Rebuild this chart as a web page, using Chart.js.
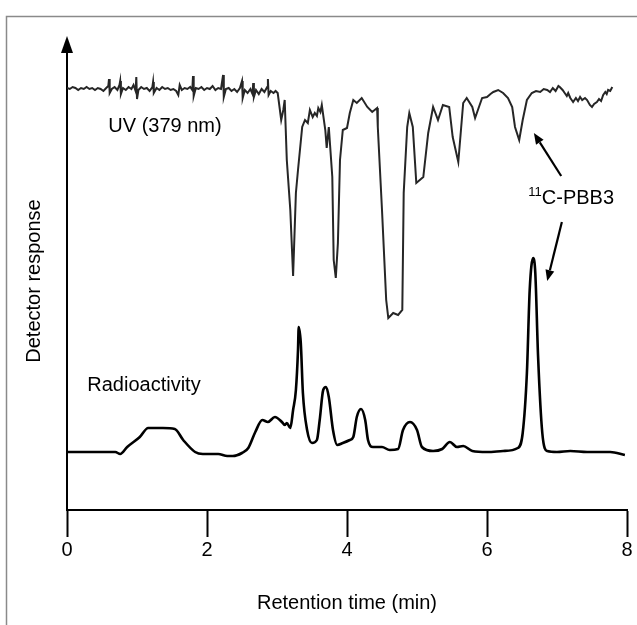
<!DOCTYPE html>
<html>
<head>
<meta charset="utf-8">
<script src="https://cdn.jsdelivr.net/npm/chart.js@4/dist/chart.umd.min.js"></script>
<style>
  html, body { margin: 0; padding: 0; background: #fff; }
  #wrap { width: 637px; height: 625px; position: relative; }
</style>
</head>
<body>
<div id="wrap"><canvas id="myChart" width="637" height="625"></canvas></div>
<script>
// retention time (min) and detector response (arbitrary units)
const uvTime = [
  0.00, 0.04, 0.08, 0.12, 0.16, 0.20, 0.24, 0.28, 0.32, 0.36,
  0.40, 0.44, 0.48, 0.52, 0.56, 0.59, 0.60, 0.61, 0.64, 0.68,
  0.72, 0.75, 0.76, 0.77, 0.80, 0.84, 0.88, 0.92, 0.95, 0.98,
  0.99, 1.00, 1.02, 1.06, 1.10, 1.14, 1.18, 1.22, 1.23, 1.24,
  1.28, 1.32, 1.36, 1.40, 1.44, 1.48, 1.52, 1.56, 1.59, 1.61,
  1.64, 1.68, 1.72, 1.76, 1.79, 1.80, 1.81, 1.84, 1.88, 1.92,
  1.96, 2.00, 2.04, 2.08, 2.12, 2.16, 2.20, 2.23, 2.24, 2.27,
  2.31, 2.35, 2.39, 2.43, 2.47, 2.50, 2.51, 2.54, 2.58, 2.62,
  2.65, 2.66, 2.67, 2.70, 2.74, 2.78, 2.82, 2.86, 2.87, 2.88,
  2.91, 2.95, 2.98, 3.01, 3.06, 3.09, 3.11, 3.14, 3.19, 3.23,
  3.27, 3.30, 3.36, 3.40, 3.44, 3.47, 3.51, 3.54, 3.57, 3.59,
  3.62, 3.64, 3.69, 3.71, 3.74, 3.79, 3.81, 3.84, 3.87, 3.90,
  3.94, 4.00, 4.04, 4.09, 4.14, 4.21, 4.29, 4.36, 4.43, 4.44,
  4.50, 4.56, 4.59, 4.66, 4.73, 4.79, 4.81, 4.86, 4.89, 4.94,
  4.99, 5.09, 5.16, 5.23, 5.30, 5.37, 5.46, 5.51, 5.59, 5.66,
  5.71, 5.79, 5.83, 5.87, 5.93, 6.00, 6.05, 6.09, 6.16, 6.23,
  6.30, 6.36, 6.40, 6.46, 6.51, 6.57, 6.64, 6.70, 6.76, 6.81,
  6.86, 6.90, 6.94, 6.98, 7.02, 7.04, 7.08, 7.11, 7.14, 7.16,
  7.19, 7.21, 7.23, 7.27, 7.30, 7.33, 7.36, 7.40, 7.43, 7.47,
  7.50, 7.53, 7.57, 7.60, 7.63, 7.66, 7.69, 7.71, 7.73, 7.76,
  7.79];
const uvSignal = [
  422, 421, 423, 422, 420, 422, 421, 423, 421, 422,
  420, 422, 421, 419, 422, 424, 431, 417, 421, 423,
  420, 425, 429, 416, 422, 420, 423, 421, 425, 419,
  433, 411, 420, 423, 421, 422, 419, 423, 428, 417,
  422, 420, 423, 421, 422, 420, 421, 419, 415, 425,
  420, 422, 421, 423, 420, 434, 414, 422, 421, 423,
  420, 422, 421, 424, 420, 422, 421, 435, 413, 421,
  422, 419, 421, 418, 422, 429, 412, 420, 417, 421,
  416, 427, 413, 420, 416, 421, 418, 423, 431, 415,
  419, 417, 419, 417, 390, 400, 410, 350, 300, 234,
  317, 340, 383, 390, 387, 400, 393, 397, 394, 402,
  398, 405, 380, 362, 383, 333, 250, 232, 267, 350,
  380, 382, 397, 410, 407, 412, 403, 398, 402, 383,
  300, 210, 192, 197, 195, 200, 317, 383, 397, 383,
  327, 333, 377, 403, 390, 405, 403, 373, 348, 407,
  412, 403, 392, 400, 412, 413, 416, 418, 420, 417,
  412, 403, 383, 370, 390, 410, 417, 419, 418, 421,
  420, 418, 422, 419, 424, 423, 420, 417, 414, 417,
  412, 410, 408, 412, 409, 413, 410, 412, 410, 405,
  403, 406, 408, 411, 409, 415, 418, 416, 420, 419,
  423];

const radTime = [
  0.00, 0.69, 0.76, 0.86, 1.04, 1.16, 1.37, 1.54, 1.66, 1.83,
  1.94, 2.16, 2.29, 2.37, 2.50, 2.59, 2.69, 2.79, 2.87, 2.97,
  3.07, 3.11, 3.14, 3.19, 3.23, 3.27, 3.30, 3.31, 3.34, 3.37,
  3.43, 3.50, 3.57, 3.61, 3.66, 3.70, 3.74, 3.80, 3.86, 3.94,
  4.04, 4.09, 4.14, 4.20, 4.26, 4.30, 4.37, 4.50, 4.61, 4.73,
  4.80, 4.90, 5.00, 5.07, 5.23, 5.36, 5.47, 5.57, 5.66, 5.79,
  6.00, 6.23, 6.44, 6.51, 6.57, 6.61, 6.66, 6.69, 6.73, 6.79,
  6.86, 7.00, 7.19, 7.43, 7.76, 7.97];
const radSignal = [
  58, 58, 56, 63, 73, 82, 82, 81, 70, 58,
  56, 56, 54, 54, 57, 62, 78, 90, 88, 93,
  88, 85, 87, 82, 100, 120, 160, 183, 167, 117,
  80, 67, 70, 90, 120, 123, 113, 80, 65, 67,
  70, 73, 93, 101, 90, 70, 63, 63, 60, 61,
  80, 88, 80, 63, 59, 61, 68, 63, 64, 59,
  58, 59, 62, 77, 137, 220, 252, 237, 153, 77,
  59, 58, 59, 58, 58, 55];

const xTicks = [0, 2, 4, 6, 8];

const FONT = 'Arial, "Liberation Sans", sans-serif';

function toPoints(xs, ys) {
    return xs.map((x, i) => ({ x: x, y: ys[i] }));
}

function arrowLine(ctx, x1, y1, x2, y2) {
    const ang = Math.atan2(y2 - y1, x2 - x1);
    const len = 11;
    const half = 4.5;
    const bx = x2 - Math.cos(ang) * len;
    const by = y2 - Math.sin(ang) * len;
    ctx.beginPath();
    ctx.moveTo(x1, y1);
    ctx.lineTo(bx, by);
    ctx.stroke();
    ctx.beginPath();
    ctx.moveTo(x2, y2);
    ctx.lineTo(bx + Math.sin(ang) * half, by - Math.cos(ang) * half);
    ctx.lineTo(bx - Math.sin(ang) * half, by + Math.cos(ang) * half);
    ctx.closePath();
    ctx.fill();
}

const decorPlugin = {
    id: 'decor',
    beforeDraw(chart) {
        const ctx = chart.ctx;
        ctx.save();
        ctx.fillStyle = '#fff';
        ctx.fillRect(0, 0, chart.width, chart.height);
        ctx.strokeStyle = '#8a8a8a';
        ctx.lineWidth = 1.5;
        ctx.strokeRect(6.5, 16.5, chart.width + 20, chart.height + 20);
        ctx.restore();
    },
    afterDraw(chart) {
        const ctx = chart.ctx;
        const xs = chart.scales.x;
        const ys = chart.scales.y;
        const area = chart.chartArea;
        ctx.save();
        ctx.fillStyle = '#000';
        ctx.strokeStyle = '#000';

        // arrow head on the y axis
        ctx.beginPath();
        ctx.moveTo(area.left, area.top - 16);
        ctx.lineTo(area.left - 6, area.top + 1);
        ctx.lineTo(area.left + 6, area.top + 1);
        ctx.closePath();
        ctx.fill();

        // trace labels
        ctx.font = '20px ' + FONT;
        ctx.textBaseline = 'middle';
        ctx.textAlign = 'left';
        ctx.fillText('UV (379 nm)', xs.getPixelForValue(0.59), ys.getPixelForValue(384));
        ctx.fillText('Radioactivity', xs.getPixelForValue(0.29), ys.getPixelForValue(125));

        // 11C-PBB3 label
        const lx = xs.getPixelForValue(6.59);
        const ly = ys.getPixelForValue(312);
        ctx.font = '13px ' + FONT;
        ctx.fillText('11', lx, ly - 6);
        const sw = ctx.measureText('11').width;
        ctx.font = '20px ' + FONT;
        ctx.fillText('C-PBB3', lx + sw, ly);

        // pointer arrows
        ctx.lineWidth = 2.2;
        arrowLine(ctx, xs.getPixelForValue(7.06), ys.getPixelForValue(334), xs.getPixelForValue(6.67), ys.getPixelForValue(377));
        arrowLine(ctx, xs.getPixelForValue(7.07), ys.getPixelForValue(288), xs.getPixelForValue(6.86), ys.getPixelForValue(229));
        ctx.restore();
    }
};

const ctx = document.getElementById('myChart');
const myChart = new Chart(ctx, {
    type: 'line',
    data: {
        datasets: [{
            label: 'UV (379 nm)',
            data: toPoints(uvTime, uvSignal),
            borderColor: '#262626',
            borderWidth: 2,
            pointRadius: 0,
            tension: 0
        }, {
            label: 'Radioactivity',
            data: toPoints(radTime, radSignal),
            borderColor: '#000',
            borderWidth: 2.6,
            pointRadius: 0,
            cubicInterpolationMode: 'monotone'
        }]
    },
    options: {
        responsive: false,
        animation: false,
        devicePixelRatio: 1,
        layout: { padding: { top: 52, right: 10, left: 0, bottom: 0 } },
        plugins: {
            legend: { display: false },
            tooltip: { enabled: false }
        },
        scales: {
            x: {
                type: 'linear',
                min: 0,
                max: 8,
                afterFit(scale) { scale.height = 115; },
                afterBuildTicks(scale) { scale.ticks = xTicks.map(v => ({ value: v })); },
                border: { display: true, color: '#000', width: 2 },
                grid: { display: true, drawOnChartArea: false, drawTicks: true, tickLength: 27, tickColor: '#000', tickWidth: 2, color: '#000' },
                ticks: { color: '#000', font: { family: FONT, size: 20 }, padding: 1, maxRotation: 0 },
                title: { display: true, text: 'Retention time (min)', color: '#000', font: { family: FONT, size: 20 }, padding: { top: 0, bottom: 10 } }
            },
            y: {
                min: 0,
                max: 458,
                afterFit(scale) { scale.width = 67; },
                border: { display: true, color: '#000', width: 2 },
                grid: { display: false },
                ticks: { display: false },
                title: { display: true, text: 'Detector response', color: '#000', font: { family: FONT, size: 20 }, padding: { top: 22, bottom: 0 } }
            }
        }
    },
    plugins: [decorPlugin]
});
</script>
</body>
</html>
